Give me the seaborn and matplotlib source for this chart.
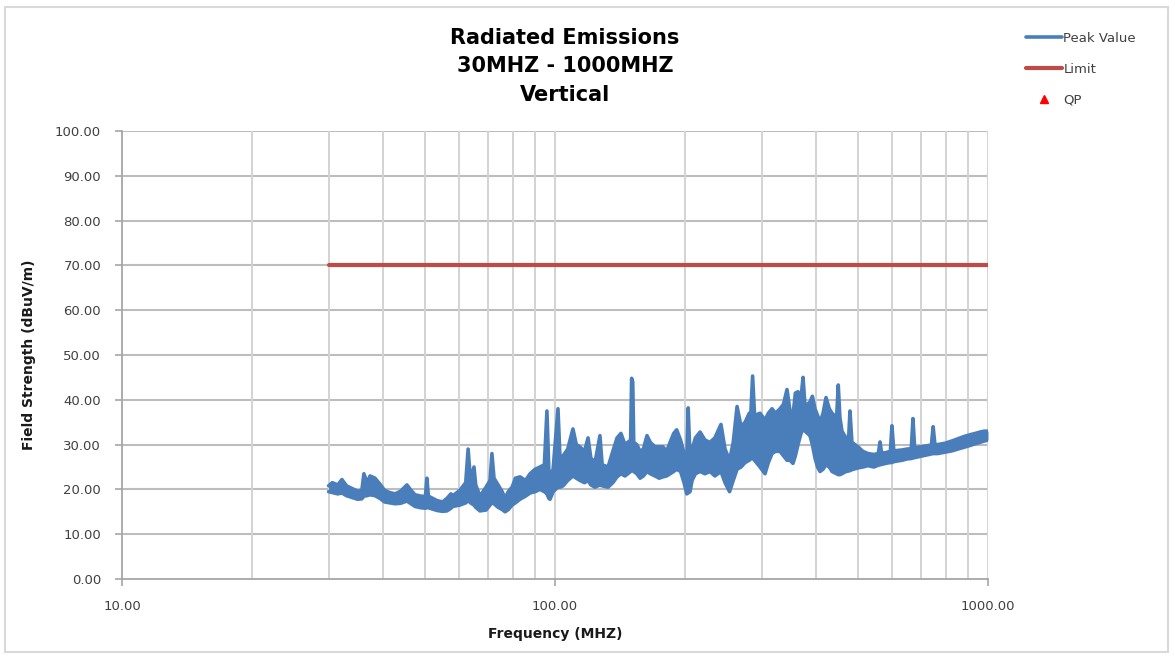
import numpy as np
import pandas as pd
import matplotlib
matplotlib.use("Agg")
import matplotlib.pyplot as plt
from matplotlib.ticker import FixedLocator, NullFormatter, FuncFormatter
from matplotlib.patches import Rectangle
import seaborn as sns

# peak trace, as a band: lower and upper edge per frequency (MHz, dBuV/m)
freq_mhz = [30.0, 30.6, 31.5, 32.2, 33.0, 34.0, 35.0, 35.8, 36.2, 36.8, 37.4, 38.4, 39.4, 40.4,
            41.5, 42.7, 44.0, 45.5, 46.5, 47.5, 49.0, 50.2, 50.6, 51.0, 53.4, 55.0, 56.3, 57.5,
            58.1, 60.3, 62.2, 63.0, 63.8, 65.0, 65.6, 67.1, 69.3, 70.8, 71.5, 72.3, 73.9, 75.5,
            76.7, 78.0, 79.6, 81.0, 83.0, 85.5, 87.6, 90.0, 92.3, 94.5, 95.8, 96.8, 97.4, 99.0,
            101.6, 102.8, 104.4, 107.0, 110.0, 112.0, 114.2, 117.0, 119.2, 121.0, 123.7, 127.0,
            128.5, 132.6, 136.0, 139.1, 142.0, 145.1, 149.5, 150.3, 151.2, 152.0, 154.5, 157.2,
            160.0, 163.1, 166.0, 170.2, 174.0, 177.6, 181.0, 184.4, 188.0, 191.0, 195.0, 198.6,
            201.5, 203.0, 205.0, 207.3, 211.0, 216.3, 222.0, 228.0, 234.0, 241.7, 247.0, 253.0,
            258.0, 263.3, 269.0, 274.8, 281.0, 283.0, 286.0, 289.0, 297.5, 305.5, 311.0, 317.1,
            323.0, 330.8, 337.0, 343.4, 349.0, 354.5, 359.0, 364.1, 370.0, 374.0, 378.0, 388.0,
            393.0, 398.5, 404.0, 409.3, 416.0, 422.6, 430.0, 436.3, 447.0, 451.0, 455.0, 460.0,
            470.0, 476.0, 480.0, 485.0, 501.0, 514.0, 528.4, 545.0, 558.0, 563.2, 568.0, 580.0,
            595.0, 600.0, 606.0, 633.0, 650.0, 665.0, 671.0, 677.0, 707.9, 730.0, 740.0, 747.0,
            754.0, 765.0, 795.7, 825.0, 852.5, 880.0, 908.8, 935.0, 958.3, 980.0, 1000.0]
peak_low = [19.5, 19.3, 19.0, 19.2, 18.6, 18.2, 17.8, 17.9, 18.5, 18.6, 18.8, 18.6, 18.0, 17.2,
            17.0, 16.8, 16.9, 17.4, 16.8, 16.2, 15.9, 15.8, 16.0, 15.9, 15.3, 15.1, 15.2, 15.8,
            16.2, 16.5, 17.0, 17.5, 17.0, 16.5, 16.0, 15.2, 15.4, 16.5, 17.0, 16.8, 16.0, 15.5,
            15.0, 15.5, 16.5, 17.0, 17.8, 18.5, 19.2, 19.5, 20.0, 19.5, 19.0, 18.0, 17.8, 19.5,
            20.5, 20.5, 20.8, 22.0, 23.0, 22.5, 22.0, 21.5, 22.0, 21.0, 20.5, 21.0,
            20.8, 20.5, 21.5, 22.8, 23.5, 23.0, 24.0, 24.5, 24.3, 24.0, 23.5, 22.5,
            23.0, 24.0, 23.5, 23.0, 22.5, 22.8, 23.0, 23.5, 24.0, 24.5, 24.0, 21.5,
            19.0, 19.2, 19.5, 22.0, 23.5, 24.0, 23.5, 24.0, 23.0, 24.0, 21.5, 19.5,
            22.0, 24.5, 25.0, 26.0, 26.5, 26.8, 27.0, 26.5, 25.0, 23.5, 26.0, 28.0,
            28.5, 28.5, 27.5, 26.5, 26.5, 25.8, 27.5, 30.0, 32.5, 33.5, 33.0, 32.0,
            30.0, 27.0, 25.0, 24.0, 24.5, 25.5, 25.0, 24.0, 23.5, 23.3, 23.3, 23.5,
            24.0, 24.1, 24.2, 24.4, 24.8, 25.0, 25.3, 25.0, 25.4, 25.5, 25.6, 25.8,
            26.0, 26.0, 26.2, 26.5, 26.8, 26.9, 27.0, 27.1, 27.5, 27.8, 27.9, 28.0,
            28.0, 28.0, 28.3, 28.6, 29.0, 29.4, 29.8, 30.2, 30.5, 30.8, 31.0]
peak_high = [20.8, 21.5, 21.0, 22.2, 20.8, 20.2, 19.6, 19.8, 23.5, 21.5, 23.0, 22.5, 21.2, 19.8,
             19.3, 19.0, 19.6, 21.0, 19.8, 18.8, 18.5, 18.4, 22.5, 18.5, 17.5, 17.2, 18.0, 19.0,
             18.6, 19.8, 21.5, 29.0, 22.0, 25.0, 21.0, 18.5, 20.5, 22.0, 28.0, 22.5, 21.0, 19.5,
             18.0, 19.5, 20.5, 22.5, 22.8, 22.0, 23.5, 24.5, 25.0, 25.5, 37.5, 24.0, 23.0, 24.5,
             38.0, 26.0, 27.5, 29.0, 33.5, 30.0, 29.5, 28.5, 31.5, 27.0, 26.0, 32.0,
             25.5, 25.0, 28.5, 31.5, 32.5, 30.0, 31.0, 44.8, 44.0, 30.5, 30.0, 28.5,
             29.0, 32.0, 30.5, 29.5, 29.5, 29.5, 28.5, 30.5, 32.5, 33.3, 31.0, 28.0,
             26.5, 38.2, 27.5, 29.0, 31.5, 32.8, 31.0, 30.5, 31.5, 34.5, 29.0, 26.5,
             30.5, 38.5, 34.0, 35.0, 37.0, 36.0, 45.3, 36.5, 37.0, 35.5, 37.0, 38.0,
             37.0, 38.0, 39.0, 42.3, 37.5, 36.5, 41.5, 41.8, 40.5, 45.0, 38.5, 39.5,
             40.8, 38.0, 36.5, 35.0, 37.0, 40.5, 38.0, 37.0, 36.0, 43.3, 36.0, 33.0,
             31.5, 30.5, 37.5, 30.5, 29.5, 28.5, 28.0, 27.8, 28.0, 30.6, 28.1, 28.2,
             28.5, 34.2, 28.6, 28.8, 29.0, 29.1, 35.8, 29.3, 29.6, 29.8, 29.9, 34.0,
             30.0, 30.0, 30.3, 30.8, 31.3, 31.8, 32.2, 32.5, 32.8, 33.0, 33.0]

limit_freq = [30.0, 1000.0]
limit_value = [70.0, 70.0]

y_ticks = [0, 10, 20, 30, 40, 50, 60, 70, 80, 90, 100]
x_major = [10, 100, 1000]
x_minor = [20, 30, 40, 50, 60, 70, 80, 90, 200, 300, 400, 500, 600, 700, 800, 900]

blue = '#4a7ebb'
red = '#be4b48'

sns.set_style('white')
plt.rcParams['font.family'] = ['DejaVu Sans']

df = pd.DataFrame({'freq': freq_mhz, 'low': peak_low, 'high': peak_high})

fig = plt.figure(figsize=(11.75, 6.58), dpi=100)
ax = fig.add_axes([122 / 1175, 1 - 579 / 658, (988 - 122) / 1175, (579 - 131) / 658])

ax.fill_between(df['freq'], df['low'], df['high'], color=blue, linewidth=0)
sns.lineplot(data=df, x='freq', y='high', color=blue, linewidth=2.6, ax=ax, label='Peak Value')
sns.lineplot(data=df, x='freq', y='low', color=blue, linewidth=2.6, ax=ax, label='_nolegend_')
sns.lineplot(x=limit_freq, y=limit_value, color=red, linewidth=3, ax=ax, label='Limit')
ax.plot([], [], linestyle='none', marker='^', color='red', markersize=6, label='QP')

ax.set_xscale('log')
ax.set_xlim(10, 1000)
ax.set_ylim(0, 100)
ax.xaxis.set_major_locator(FixedLocator(x_major))
ax.xaxis.set_minor_locator(FixedLocator(x_minor))
ax.xaxis.set_major_formatter(FuncFormatter(lambda v, p: f'{v:.2f}'))
ax.xaxis.set_minor_formatter(NullFormatter())
ax.set_yticks(y_ticks)
ax.yaxis.set_major_formatter(FuncFormatter(lambda v, p: f'{v:.2f}'))

ax.grid(False)
for yv in y_ticks[1:]:
    ax.axhline(yv, color='#bdbdbd', linewidth=1.5, zorder=0)
for xv in x_major[1:] + x_minor:
    ax.axvline(xv, color='#d3d3d3', linewidth=1.4, zorder=0)

for side in ['top', 'right']:
    ax.spines[side].set_visible(False)
for side in ['left', 'bottom']:
    ax.spines[side].set_color('#a6a6a6')
    ax.spines[side].set_linewidth(1.3)

ax.tick_params(axis='both', which='major', direction='out', length=5, width=1.2,
               color='#a6a6a6', labelsize=9.5, labelcolor='#404040', pad=10, left=True, bottom=True)
ax.tick_params(axis='x', which='minor', length=0)

ax.set_xlabel('Frequency (MHZ)', fontsize=10, fontweight='bold', labelpad=10, color='#1a1a1a')
ax.set_ylabel('Field Strength (dBuV/m)', fontsize=10, fontweight='bold', labelpad=14, color='#1a1a1a')

title_lines = ['Radiated Emissions', '30MHZ - 1000MHZ', 'Vertical']
title_y = [38, 66, 95]
for line, ty in zip(title_lines, title_y):
    fig.text(565 / 1175, 1 - ty / 658, line, ha='center', va='center',
             fontsize=15, fontweight='bold', color='black')

ax.get_legend().remove()
handles, labels = ax.get_legend_handles_labels()
fig.legend(handles, labels, loc='upper left', bbox_to_anchor=(1014 / 1175, 1 - 20 / 658),
           frameon=False, fontsize=9.5, labelspacing=1.35, handlelength=2.7,
           handletextpad=0.15, labelcolor='#404040')

fig.patches.append(Rectangle((5 / 1175, 1 - 652 / 658), 1163 / 1175, 645 / 658,
                             transform=fig.transFigure, fill=False,
                             edgecolor='#d9d9d9', linewidth=1.5))

fig.savefig('out.png', dpi=100, facecolor='white')
